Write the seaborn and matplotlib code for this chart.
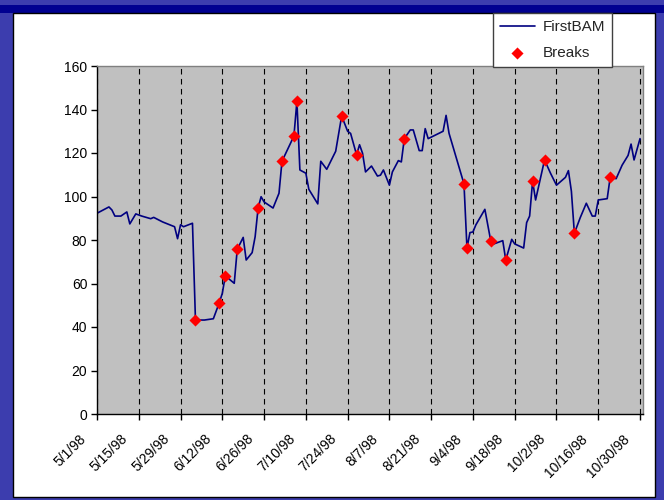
import matplotlib
matplotlib.use("Agg")
import pandas as pd
import matplotlib.pyplot as plt
from matplotlib.patches import Rectangle
from matplotlib.transforms import ScaledTranslation
import seaborn as sns

# values
dates = [
    "1998-05-01", "1998-05-05", "1998-05-06", "1998-05-07", "1998-05-09", "1998-05-11",
    "1998-05-12", "1998-05-14", "1998-05-16", "1998-05-19", "1998-05-20", "1998-05-23",
    "1998-05-27", "1998-05-28", "1998-05-29", "1998-05-30", "1998-06-02", "1998-06-03",
    "1998-06-06", "1998-06-09", "1998-06-11", "1998-06-12", "1998-06-13", "1998-06-16",
    "1998-06-17", "1998-06-19", "1998-06-20", "1998-06-22", "1998-06-23", "1998-06-24",
    "1998-06-25", "1998-06-26", "1998-06-29", "1998-07-01", "1998-07-02", "1998-07-06",
    "1998-07-07", "1998-07-08", "1998-07-10", "1998-07-11", "1998-07-14", "1998-07-15",
    "1998-07-17", "1998-07-20", "1998-07-22", "1998-07-24", "1998-07-25", "1998-07-27",
    "1998-07-28", "1998-07-29", "1998-07-30", "1998-08-01", "1998-08-03", "1998-08-04",
    "1998-08-05", "1998-08-07", "1998-08-08", "1998-08-10", "1998-08-11", "1998-08-12",
    "1998-08-14", "1998-08-15", "1998-08-17", "1998-08-18", "1998-08-19", "1998-08-20",
    "1998-08-25", "1998-08-26", "1998-08-27", "1998-09-01", "1998-09-02", "1998-09-03",
    "1998-09-04", "1998-09-05", "1998-09-08", "1998-09-10", "1998-09-11", "1998-09-14",
    "1998-09-15", "1998-09-17", "1998-09-18", "1998-09-21", "1998-09-22", "1998-09-23",
    "1998-09-24", "1998-09-25", "1998-09-28", "1998-09-30", "1998-10-02", "1998-10-05",
    "1998-10-06", "1998-10-07", "1998-10-08", "1998-10-10", "1998-10-12", "1998-10-14",
    "1998-10-15", "1998-10-16", "1998-10-19", "1998-10-20", "1998-10-22", "1998-10-24",
    "1998-10-26", "1998-10-27", "1998-10-28", "1998-10-30",
]
first_bam = [
    92.3, 95.2, 93.8, 91.0, 91.0, 92.9,
    87.4, 92.0, 91.0, 89.8, 90.4, 88.3,
    86.1, 80.6, 87.0, 86.1, 87.7, 43.2,
    43.2, 43.8, 51.2, 55.5, 63.5, 60.1,
    75.7, 81.2, 70.8, 74.2, 81.5, 94.7,
    99.9, 97.5, 94.7, 101.5, 116.2, 127.8,
    143.8, 112.2, 110.7, 103.3, 96.6, 116.2,
    112.5, 120.8, 137.0, 130.0, 129.0, 119.2,
    123.8, 119.9, 111.3, 114.0, 109.4, 109.8,
    112.2, 105.2, 111.3, 116.5, 115.9, 126.6,
    130.6, 130.6, 121.1, 121.1, 131.2, 126.6,
    130.0, 137.3, 129.0, 105.8, 76.3, 83.4,
    83.7, 87.0, 94.1, 79.4, 78.2, 79.7,
    70.8, 80.3, 78.2, 76.3, 88.0, 91.0,
    107.0, 98.4, 116.8, 110.7, 105.2, 108.8,
    111.9, 102.4, 83.1, 90.4, 96.9, 91.0,
    91.0, 98.4, 99.0, 108.8, 108.2, 114.4,
    118.9, 124.1, 116.8, 126.6,
]
break_dates = [
    "1998-06-03", "1998-06-11", "1998-06-13", "1998-06-17", "1998-06-24", "1998-07-02",
    "1998-07-06", "1998-07-07", "1998-07-22", "1998-07-27", "1998-08-12", "1998-09-01",
    "1998-09-02", "1998-09-10", "1998-09-15", "1998-09-24", "1998-09-28", "1998-10-08",
    "1998-10-20",
]
break_values = [
    43.2, 51.2, 63.5, 75.7, 94.7, 116.2,
    127.8, 143.8, 137.0, 119.2, 126.6, 105.8,
    76.3, 79.4, 70.8, 107.0, 116.8, 83.1,
    108.8,
]
tick_dates = [
    "1998-05-01", "1998-05-15", "1998-05-29", "1998-06-12", "1998-06-26", "1998-07-10",
    "1998-07-24", "1998-08-07", "1998-08-21", "1998-09-04", "1998-09-18", "1998-10-02",
    "1998-10-16", "1998-10-30",
]
tick_labels = [
    "5/1/98", "5/15/98", "5/29/98", "6/12/98", "6/26/98", "7/10/98", "7/24/98",
    "8/7/98", "8/21/98", "9/4/98", "9/18/98", "10/2/98", "10/16/98", "10/30/98",
]
y_ticks = [0, 20, 40, 60, 80, 100, 120, 140, 160]

sns.set_theme(style="white")
plt.rcParams["font.family"] = ["Liberation Sans", "DejaVu Sans"]

W, H = 664, 500
fig = plt.figure(figsize=(W / 100, H / 100), dpi=100, facecolor="#3c3dae")

# slide frame: dark band on top, white panel with black edge
fig.patches.append(Rectangle((0, 1 - 13 / H), 1, 8 / H, transform=fig.transFigure,
                             facecolor="#000090", edgecolor="none", zorder=-2))
fig.patches.append(Rectangle((13 / W, 3 / H), 642 / W, 484 / H, transform=fig.transFigure,
                             facecolor="white", edgecolor="black", lw=1, zorder=-1))

ax = fig.add_axes([97 / W, 86 / H, 546 / W, 348 / H])
ax.set_facecolor("#c0c0c0")

line_df = pd.DataFrame({"date": pd.to_datetime(dates), "value": first_bam})
break_df = pd.DataFrame({"date": pd.to_datetime(break_dates), "value": break_values})

sns.lineplot(data=line_df, x="date", y="value", ax=ax, color="#000080", lw=1.2,
             label="FirstBAM", zorder=2)
sns.scatterplot(data=break_df, x="date", y="value", ax=ax, marker="D", color="#ff0000",
                s=38, linewidth=0, label="Breaks", zorder=3)

ax.set_xlim(pd.Timestamp("1998-05-01"), pd.Timestamp("1998-10-31"))
ax.set_ylim(0, 160)
ax.set_yticks(y_ticks)
ax.set_xticks(pd.to_datetime(tick_dates))
ax.set_xticklabels(tick_labels, rotation=45, ha="right", rotation_mode="anchor")
ax.set_xlabel("")
ax.set_ylabel("")

ax.xaxis.grid(True, linestyle=(0, (5, 4)), color="black", lw=0.8)
ax.yaxis.grid(False)

for side in ["left", "bottom"]:
    ax.spines[side].set_color("black")
    ax.spines[side].set_linewidth(1)
for side in ["top", "right"]:
    ax.spines[side].set_color("#808080")
    ax.spines[side].set_linewidth(1)

ax.tick_params(axis="both", direction="out", length=4, width=1, color="black",
               labelsize=10, labelcolor="black", pad=3)
ax.tick_params(axis="x", bottom=True)
ax.tick_params(axis="y", left=True)

# excel puts the rotated labels a bit below and left of the tick
# (done after tick_params, which resets the label transforms)
shift = ScaledTranslation(-18 / 100, -8 / 100, fig.dpi_scale_trans)
for lbl in ax.get_xticklabels():
    lbl.set_transform(lbl.get_transform() + shift)

handles, labels = ax.get_legend_handles_labels()
ax.get_legend().remove()
leg = fig.legend(handles, labels, loc="upper left", bbox_to_anchor=(493 / W, 487 / H),
                 frameon=True, fancybox=False, edgecolor="#404040", framealpha=1,
                 fontsize=11, borderaxespad=0, handlelength=2.3, handletextpad=0.5,
                 labelspacing=0.8, borderpad=0.45)
leg.get_frame().set_linewidth(1)

fig.savefig("out.png", dpi=100, facecolor=fig.get_facecolor())
